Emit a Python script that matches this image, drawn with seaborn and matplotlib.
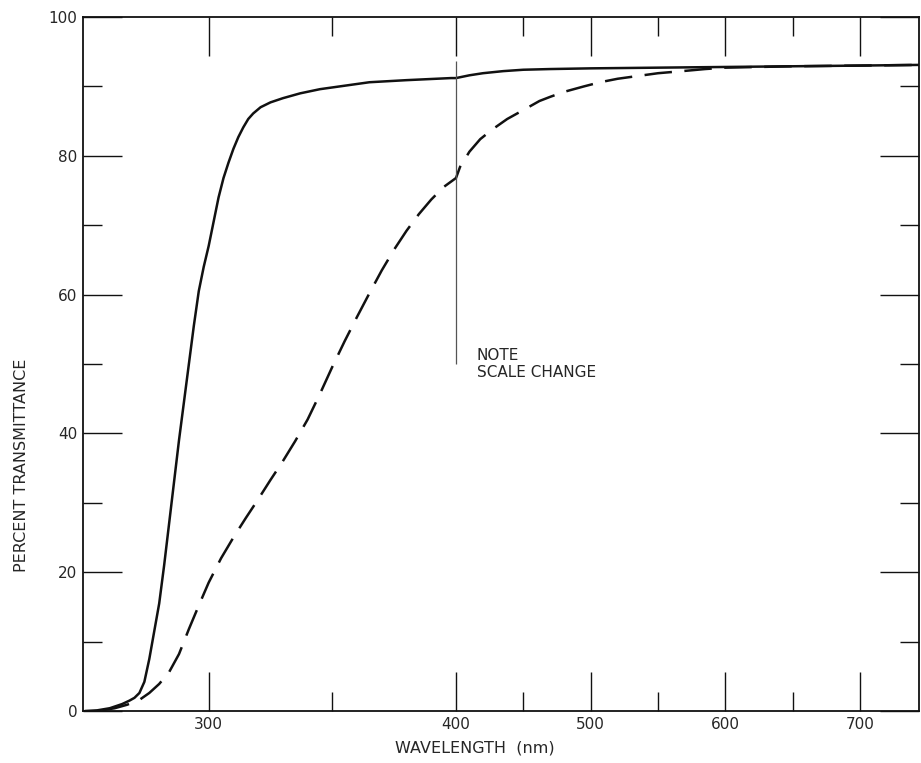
import numpy as np
import pandas as pd
import matplotlib
matplotlib.use("Agg")
import matplotlib.pyplot as plt
import seaborn as sns

# ---- data ----
solid_wl = [250, 255, 260, 265, 268, 270, 272, 274, 276, 278, 280, 282, 284, 286, 288,
            290, 292, 294, 296, 298, 300, 302, 304, 306, 308, 310, 312, 314, 316, 318,
            321, 325, 330, 337, 345, 355, 365, 380, 398, 400, 410, 420, 435, 450, 470,
            500, 550, 600, 650, 700, 745]
solid_T = [0.0, 0.1, 0.4, 1.0, 1.5, 1.9, 2.6, 4.2, 7.5, 11.5, 15.5, 21.0, 27.0, 33.0, 39.0,
           44.5, 50.0, 55.5, 60.5, 64.0, 67.0, 70.5, 74.0, 76.8, 79.0, 81.0, 82.7, 84.1, 85.3, 86.1,
           87.0, 87.7, 88.3, 89.0, 89.6, 90.1, 90.6, 90.9, 91.2, 91.2, 91.6, 91.9, 92.2, 92.4, 92.5,
           92.6, 92.7, 92.8, 92.9, 93.0, 93.1]

dash_wl = [257, 262, 267, 272, 276, 280, 284, 288, 292, 296, 300, 305, 310, 315, 320,
           325, 330, 335, 340, 345, 350, 355, 360, 365, 370, 375, 380, 385, 390, 395,
           400, 403, 410, 418, 427, 438, 451, 462, 470, 480, 495, 507, 520, 535, 550,
           568, 585, 600, 650, 700, 745]
dash_T = [0.1, 0.4, 0.9, 1.6, 2.6, 3.9, 5.6, 8.2, 11.8, 15.2, 18.5, 22.0, 25.0, 27.8, 30.5,
          33.3, 36.0, 38.9, 42.0, 45.7, 49.6, 53.3, 56.8, 60.2, 63.5, 66.5, 69.2, 71.6, 73.7, 75.5,
          76.8, 78.4, 80.6, 82.4, 83.8, 85.3, 86.7, 87.9, 88.5, 89.2, 90.0, 90.6, 91.1, 91.5, 91.9,
          92.2, 92.5, 92.7, 92.9, 93.0, 93.1]

x_major = [300, 400, 500, 600, 700]
x_minor = [350, 450, 550, 650]
y_major = [0, 20, 40, 60, 80, 100]
y_minor = [10, 30, 50, 70, 90]
note_x = 400
note_y = (50.0, 93.6)
note_text = "NOTE\nSCALE CHANGE"
xlabel = "WAVELENGTH  (nm)"
ylabel = "PERCENT TRANSMITTANCE"

# ---- style ----
sns.set_theme(style="ticks")
plt.rcParams["font.family"] = ["DejaVu Sans"]
ink = "#111111"
txt = "#262626"

fig = plt.figure(figsize=(9.21, 7.63), dpi=100)
W, H = 921, 763
ax = fig.add_axes([83 / W, (H - 711) / H, (919 - 83) / W, (711 - 17) / H])

# piecewise-linear wavelength scale (scale change at 400 nm)
P0, P1, P2 = 85.0, 456.0, 860.0
X0, X1, X2 = 250.0, 400.0, 700.0
k1 = (P1 - P0) / (X1 - X0)
k2 = (P2 - P1) / (X2 - X1)


def fwd(x):
    x = np.asarray(x, dtype=float)
    return np.where(x <= X1, P0 + (x - X0) * k1, P1 + (x - X1) * k2)


def inv(p):
    p = np.asarray(p, dtype=float)
    return np.where(p <= P1, X0 + (p - P0) / k1, X1 + (p - P1) / k2)


ax.set_xscale("function", functions=(fwd, inv))

df_solid = pd.DataFrame({"wl": solid_wl, "T": solid_T})
df_dash = pd.DataFrame({"wl": dash_wl, "T": dash_T})

sns.lineplot(data=df_solid, x="wl", y="T", ax=ax, color=ink, lw=1.8,
             sort=False, estimator=None)
sns.lineplot(data=df_dash, x="wl", y="T", ax=ax, color=ink, lw=1.8,
             sort=False, estimator=None)
ax.lines[-1].set_dashes((11, 5))

# note line and text
ax.vlines(note_x, note_y[0], note_y[1], color="#555555", lw=0.9)
ax.text(415.5, 52.3, note_text, fontsize=11, color=txt, ha="left", va="top",
        linespacing=1.2)

ax.set_xlim(float(inv(83)), float(inv(919)))
ax.set_ylim(0, 100)

ax.set_xticks(x_major)
ax.set_xticks(x_minor, minor=True)
ax.set_xticklabels([str(v) for v in x_major])
ax.set_yticks(y_major)
ax.set_yticks(y_minor, minor=True)
ax.set_yticklabels([str(v) for v in y_major])

ax.tick_params(which="both", direction="in", top=True, right=True,
               labeltop=False, labelright=False, color=ink, width=1.0,
               labelsize=11, labelcolor=txt)
ax.tick_params(which="major", length=28, pad=4)
ax.tick_params(which="minor", length=14)

for s in ax.spines.values():
    s.set_linewidth(1.3)
    s.set_color(ink)

ax.set_xlabel("")
ax.set_ylabel("")
fig.text(475 / W, 1 - 748 / H, xlabel, ha="center", va="center", fontsize=11.5,
         color=txt)
fig.text(22 / W, 1 - 465 / H, ylabel, ha="center", va="center", rotation=90,
         fontsize=11.5, color=txt)

fig.savefig("out.png", dpi=100, facecolor="white")
